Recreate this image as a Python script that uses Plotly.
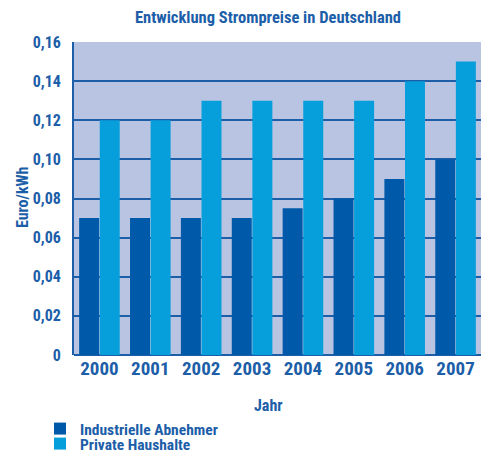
import plotly.graph_objects as go

years = ["2000", "2001", "2002", "2003", "2004", "2005", "2006", "2007"]
industrie = [0.07, 0.07, 0.07, 0.07, 0.075, 0.08, 0.09, 0.10]
privat = [0.12, 0.12, 0.13, 0.13, 0.13, 0.13, 0.14, 0.15]
tick_vals = [0, 0.02, 0.04, 0.06, 0.08, 0.10, 0.12, 0.14, 0.16]
tick_text = ["0", "0,02", "0,04", "0,06", "0,08", "0,10", "0,12", "0,14", "0,16"]

TXT = "#1C5EA8"
FONT = "Liberation Sans Narrow, Roboto Condensed, Arial Narrow, Roboto, sans-serif"
W, H = 489, 454
ML, MR, MT, MB = 74, 8, 42, 99
PW, PH = W - ML - MR, H - MT - MB

def f(size):
    return dict(size=size, color=TXT, family=FONT, weight="bold")

def px(x):
    return (x - ML) / PW

def py(y):
    return 1 - (y - MT) / PH

fig = go.Figure()
fig.add_trace(go.Bar(x=years, y=industrie, name="Industrielle Abnehmer", legend="legend",
                     marker=dict(color="#005AA9", line=dict(width=0))))
fig.add_trace(go.Bar(x=years, y=privat, name="Private Haushalte", legend="legend2",
                     marker=dict(color="#069FDB", line=dict(width=0))))

leg = dict(xref="container", yref="container", x=40 / W, xanchor="left",
           yanchor="middle", font=f(15.5), itemwidth=30,
           bgcolor="rgba(0,0,0,0)", borderwidth=0)

fig.update_layout(
    width=W, height=H,
    margin=dict(l=ML, r=MR, t=MT, b=MB, autoexpand=False),
    paper_bgcolor="white", plot_bgcolor="#B9C4E3",
    barmode="group", bargap=0.19, bargroupgap=0.03,
    font=f(15),
    title=dict(text="Entwicklung Strompreise in Deutschland",
               x=268 / W, xanchor="center", y=1 - 17 / H, yanchor="middle",
               font=f(16.5)),
    showlegend=True,
    legend=dict(leg, y=1 - 429 / H),
    legend2=dict(leg, y=1 - 444 / H),
    xaxis=dict(showgrid=False, showline=False, ticks="",
               tickfont=f(19)),
    yaxis=dict(range=[0, 0.16], tickvals=tick_vals, ticktext=tick_text,
               showgrid=True, gridcolor="#1C5EA8", gridwidth=1.5,
               showline=True, linecolor="#1C5EA8", linewidth=2,
               zeroline=True, zerolinecolor="#1C5EA8", zerolinewidth=2,
               ticks="", ticklabelstandoff=8,
               tickfont=f(16)),
    annotations=[
        dict(text="Jahr", xref="paper", yref="paper",
             x=px(268), y=py(405),
             xanchor="center", yanchor="middle", showarrow=False, font=f(16)),
        dict(text="Euro/kWh", xref="paper", yref="paper",
             x=px(22), y=py(197), textangle=-90,
             xanchor="center", yanchor="middle", showarrow=False, font=f(16)),
    ],
)
fig.write_html("out.html", config={"displayModeBar": False},
               post_script="document.body.style.margin='0';document.body.style.overflow='hidden';")
